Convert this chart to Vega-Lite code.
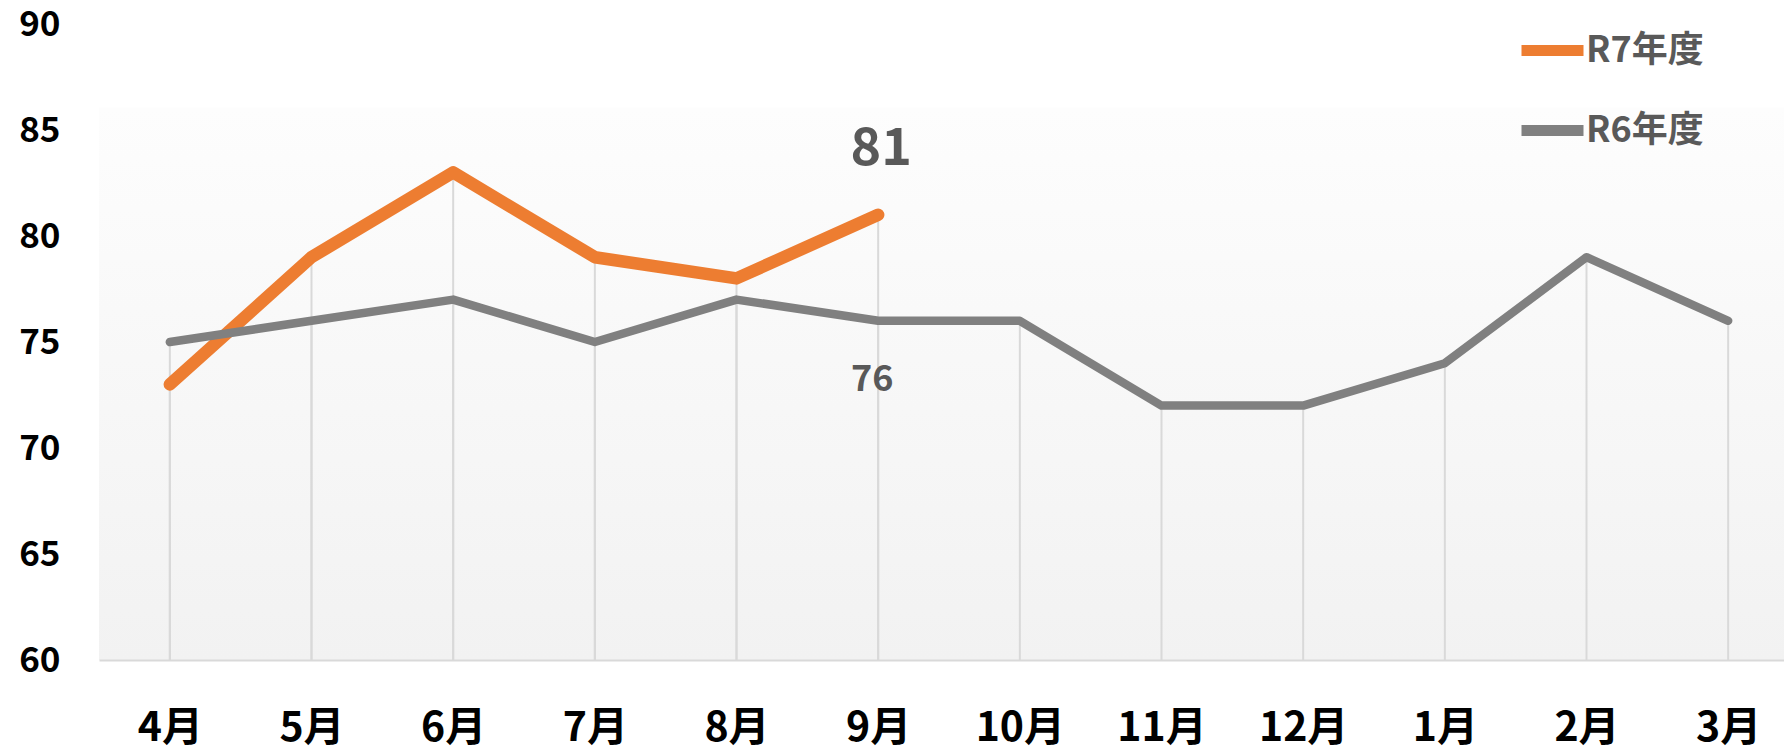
{
  "$schema": "https://vega.github.io/schema/vega-lite/v6.json",
  "width": 1700,
  "height": 636,
  "autosize": "none",
  "padding": {"left": 99, "top": 24, "right": 0, "bottom": 90},
  "background": "#ffffff",
  "config": {
    "font": "Noto Sans CJK JP",
    "view": {
      "stroke": null,
      "fill": {"gradient": "linear", "x1": 0, "y1": 0, "x2": 0, "y2": 1, "stops": [{"offset": 0, "color": "#ffffff"}, {"offset": 0.13, "color": "#ffffff"}, {"offset": 0.132, "color": "#fdfdfd"}, {"offset": 1, "color": "#f2f2f2"}]}
    }
  },
  "data": {
    "values": [
      {"month": "4月", "series": "R7年度", "value": 73},
      {"month": "5月", "series": "R7年度", "value": 79},
      {"month": "6月", "series": "R7年度", "value": 83},
      {"month": "7月", "series": "R7年度", "value": 79},
      {"month": "8月", "series": "R7年度", "value": 78},
      {"month": "9月", "series": "R7年度", "value": 81},
      {"month": "4月", "series": "R6年度", "value": 75},
      {"month": "5月", "series": "R6年度", "value": 76},
      {"month": "6月", "series": "R6年度", "value": 77},
      {"month": "7月", "series": "R6年度", "value": 75},
      {"month": "8月", "series": "R6年度", "value": 77},
      {"month": "9月", "series": "R6年度", "value": 76},
      {"month": "10月", "series": "R6年度", "value": 76},
      {"month": "11月", "series": "R6年度", "value": 72},
      {"month": "12月", "series": "R6年度", "value": 72},
      {"month": "1月", "series": "R6年度", "value": 74},
      {"month": "2月", "series": "R6年度", "value": 79},
      {"month": "3月", "series": "R6年度", "value": 76}
    ]
  },
  "encoding": {
    "x": {
      "field": "month",
      "type": "nominal",
      "sort": ["4月", "5月", "6月", "7月", "8月", "9月", "10月", "11月", "12月", "1月", "2月", "3月"],
      "scale": {"type": "point", "padding": 0.5},
      "axis": {
        "title": null,
        "labelAngle": 0,
        "labelFont": "Noto Sans CJK JP",
        "labelFontSize": 41,
        "labelFontWeight": "bold",
        "labelColor": "#000000",
        "labelPadding": 48,
        "ticks": false,
        "grid": false,
        "domainColor": "#d9d9d9",
        "domainWidth": 2
      }
    },
    "y": {
      "field": "value",
      "type": "quantitative",
      "scale": {"domain": [60, 90], "nice": false, "zero": false},
      "axis": {
        "title": null,
        "values": [60, 65, 70, 75, 80, 85, 90],
        "labelFont": "Noto Sans CJK JP",
        "labelFontSize": 35,
        "labelFontWeight": "bold",
        "labelColor": "#000000",
        "labelPadding": 39,
        "ticks": false,
        "grid": false,
        "domain": false
      }
    }
  },
  "layer": [
    {
      "mark": {"type": "rule", "color": "#d9d9d9", "strokeWidth": 2},
      "encoding": {"y2": {"datum": 60}}
    },
    {
      "transform": [{"filter": "datum.series === 'R7年度'"}],
      "mark": {"type": "line", "strokeCap": "round", "strokeJoin": "round", "strokeWidth": 12.5},
      "encoding": {
        "color": {
          "field": "series",
          "type": "nominal",
          "scale": {"domain": ["R7年度", "R6年度"], "range": ["#ED7D31", "#808080"]},
          "legend": {
            "title": null,
            "orient": "none",
            "legendX": 1417,
            "legendY": -10,
            "symbolType": "stroke",
            "symbolSize": 3844,
            "symbolStrokeWidth": 11,
            "labelFont": "Noto Sans CJK JP",
            "labelFontSize": 36,
            "labelFontWeight": "bold",
            "labelColor": "#595959",
            "labelOffset": -3,
            "rowPadding": 21
          }
        }
      }
    },
    {
      "transform": [{"filter": "datum.series === 'R6年度'"}],
      "mark": {"type": "line", "strokeCap": "round", "strokeJoin": "round", "strokeWidth": 8.5},
      "encoding": {
        "color": {"field": "series", "type": "nominal"}
      }
    },
    {
      "transform": [{"filter": "datum.series === 'R7年度' && datum.month === '9月'"}],
      "mark": {"type": "text", "fontSize": 52, "fontWeight": "bold", "color": "#595959", "dy": -66, "dx": 3, "font": "Noto Sans CJK JP"},
      "encoding": {"text": {"field": "value", "type": "quantitative"}}
    },
    {
      "transform": [{"filter": "datum.series === 'R6年度' && datum.month === '9月'"}],
      "mark": {"type": "text", "fontSize": 36, "fontWeight": "bold", "color": "#595959", "dy": 59, "dx": -6, "font": "Noto Sans CJK JP"},
      "encoding": {"text": {"field": "value", "type": "quantitative"}}
    }
  ]
}
